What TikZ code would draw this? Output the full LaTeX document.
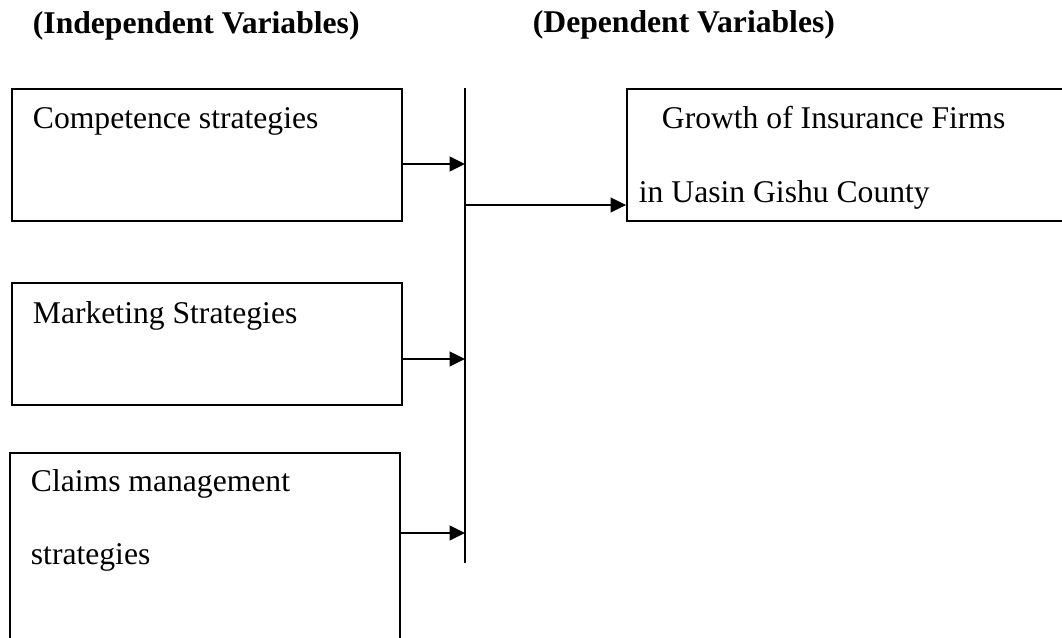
\documentclass[tikz,border=0pt]{standalone}
\usepackage{fontspec}
\setmainfont{Liberation Serif}
\usetikzlibrary{arrows.meta,positioning}

\begin{document}
\begin{tikzpicture}[
      font=\fontsize{22.5}{27}\selectfont,
      line width=1.3pt,
      header/.style={anchor=base west, inner sep=0pt, font=\fontsize{22.5}{27}\selectfont\bfseries},
      label/.style={anchor=base west, inner sep=0pt},
      varbox/.style={draw, rectangle, minimum width=9.75cm},
      arrow/.style={-{Triangle[length=11pt, width=10.5pt]}}
    ]
    \useasboundingbox (0,0) rectangle (26.55,-15.925);

    \node[header] (indep) at (0.8,-0.825) {(Independent Variables)};
    \node[header] (dep) at (13.3,-0.8) {(Dependent Variables)};

    \node[varbox, minimum height=3.3cm] (comp) at (5.175,-3.875) {};
    \node[varbox, minimum height=3.05cm] (market) at (5.175,-8.6) {};
    \node[varbox, minimum height=5.15cm] (claims) at (5.125,-13.9) {};
    \node[varbox, minimum width=11.325cm, minimum height=3.3cm] (growth) at (21.3375,-3.875) {};

    \node[label] (comptext) at (0.8,-3.2) {Competence strategies};
    \node[label] (markettext) at (0.8,-8.075) {Marketing Strategies};
    \node[label] (claimstext) at (0.75,-12.275) {Claims management};
    \node[label] (claimstextb) at (0.75,-14.1) {strategies};
    \node[label] (growthtext) at (16.525,-3.2) {Growth of Insurance Firms};
    \node[label] (growthtextb) at (15.95,-5.05) {in Uasin Gishu County};

    \coordinate (bartop) at (11.625,-2.2);
    \coordinate (barbot) at (11.625,-14.075);
    \coordinate (in1) at (11.625,-4.1);
    \coordinate (in2) at (11.625,-8.975);
    \coordinate (in3) at (11.625,-13.325);
    \coordinate (out) at (11.625,-5.125);

    \draw (bartop) -- (barbot);
    \draw[arrow] (comp.east |- in1) -- (in1);
    \draw[arrow] (market.east |- in2) -- (in2);
    \draw[arrow] (claims.east |- in3) -- (in3);
    \draw[arrow] (out) -- (growth.west |- out);
  \end{tikzpicture}
\end{document}
